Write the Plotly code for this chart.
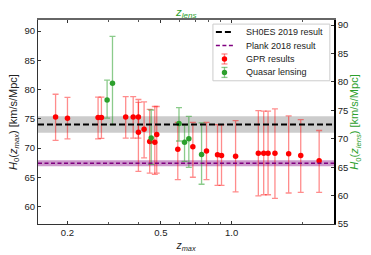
import numpy as np
import plotly.graph_objects as go

# GPR results (z_max, H0 and error-bar ends)
gpr_z = [0.178, 0.200, 0.270, 0.279, 0.354, 0.381, 0.401, 0.401, 0.424, 0.448, 0.471, 0.480,
         0.590, 0.684, 0.782, 0.871, 0.906, 1.04, 1.30, 1.37, 1.43, 1.53, 1.75, 1.97, 2.36]
gpr_h0 = [75.3, 75.1, 75.2, 75.2, 75.3, 75.3, 75.3, 72.7, 73.2, 71.1, 71.0, 72.3,
          69.8, 70.2, 69.5, 68.85, 68.7, 68.6, 69.1, 69.1, 69.1, 69.1, 69.0, 68.7, 67.8]
gpr_hi = [79.2, 78.65, 78.7, 78.7, 78.8, 78.8, 78.3, 77.8, 77.9, 76.6, 77.1, 77.1,
          74.4, 74.4, 74.4, 74.0, 74.0, 74.7, 76.4, 76.3, 76.3, 76.7, 75.5, 74.85, 73.0]
gpr_lo = [71.3, 71.55, 71.55, 71.65, 71.7, 71.7, 71.7, 66.0, 68.3, 65.7, 65.5, 65.7,
          64.6, 65.0, 64.6, 63.6, 63.6, 62.5, 61.8, 62.0, 62.0, 61.4, 62.3, 62.4, 62.4]

# Quasar lensing (z_lens, H0, +err, -err)
q_z = [0.295, 0.311, 0.4546, 0.597, 0.6304, 0.6575, 0.745]
q_h0 = [78.2, 81.1, 71.7, 74.2, 71.0, 71.6, 68.9]
q_up = [3.4, 8.0, 4.8, 2.7, 2.9, 3.8, 5.4]
q_dn = [3.1, 7.1, 4.5, 3.0, 3.3, 4.9, 5.1]

# Reference values
shoes_h0, shoes_err = 74.03, 1.42
planck_h0, planck_err = 67.4, 0.5

x_ticks = [0.2, 0.5, 1.0]
x_tick_text = ["0.2", "0.5", "1.0"]
x_minor = [0.3, 0.4, 0.6, 0.7, 0.8, 0.9, 2.0]
yl_ticks = [60, 65, 70, 75, 80, 85, 90]
yr_ticks = [55, 60, 65, 70, 75, 80, 85, 90]
legend_labels = ["SH0ES 2019 result", "Plank 2018 result", "GPR results", "Quasar lensing"]

FONT = "Liberation Sans"
GREEN = "#2ca02c"
RED = "#ff0000"
xr = [np.log10(0.1498), np.log10(2.73)]

gpr_up = [h - v for h, v in zip(gpr_hi, gpr_h0)]
gpr_dn = [v - l for l, v in zip(gpr_lo, gpr_h0)]

fig = go.Figure()
fig.add_trace(go.Scatter(
    x=gpr_z, y=gpr_h0, mode="markers", name="GPR results",
    marker=dict(color=RED, size=5.5),
    error_y=dict(type="data", symmetric=False, array=gpr_up, arrayminus=gpr_dn,
                 color="rgba(255,0,0,0.45)", thickness=1.3, width=3)))
fig.add_trace(go.Scatter(
    x=q_z, y=q_h0, mode="markers", name="Quasar lensing", xaxis="x2", yaxis="y",
    marker=dict(color=GREEN, size=5.5),
    error_y=dict(type="data", symmetric=False, array=q_up, arrayminus=q_dn,
                 color="rgba(44,160,44,0.55)", thickness=1.3, width=3)))
# dummy trace to activate right axis
fig.add_trace(go.Scatter(x=[None], y=[None], yaxis="y2", showlegend=False, hoverinfo="skip"))

# bands and lines
fig.add_shape(type="rect", xref="paper", x0=0, x1=1, yref="y",
              y0=shoes_h0 - shoes_err, y1=shoes_h0 + shoes_err,
              fillcolor="rgba(128,128,128,0.4)", line=dict(width=0), layer="below")
fig.add_shape(type="rect", xref="paper", x0=0, x1=1, yref="y",
              y0=planck_h0 - planck_err, y1=planck_h0 + planck_err,
              fillcolor="rgba(128,0,128,0.4)", line=dict(width=0), layer="below")
BLACK_DASH = dict(color="black", width=2, dash="6px,3px")
PURPLE_DASH = dict(color="purple", width=1.5, dash="4px,2.5px")
fig.add_shape(type="line", xref="paper", x0=0, x1=1, yref="y", y0=shoes_h0, y1=shoes_h0, line=BLACK_DASH)
fig.add_shape(type="line", xref="paper", x0=0, x1=1, yref="y", y0=planck_h0, y1=planck_h0, line=PURPLE_DASH)

# ---- hand-built legend (compact, matplotlib-like) ----
lg_x0, lg_x1, lg_y0, lg_y1 = 0.591, 0.986, 0.702, 0.980
fig.add_shape(type="rect", xref="paper", yref="paper", x0=lg_x0, x1=lg_x1, y0=lg_y0, y1=lg_y1,
              fillcolor="rgba(255,255,255,0.85)", line=dict(color="#cccccc", width=1))
row_y = [0.941, 0.875, 0.809, 0.743]
sym_x0, sym_x1, sym_xc, txt_x = 0.601, 0.659, 0.630, 0.696
fig.add_shape(type="line", xref="paper", yref="paper", x0=sym_x0, x1=sym_x1, y0=row_y[0], y1=row_y[0], line=BLACK_DASH)
fig.add_shape(type="line", xref="paper", yref="paper", x0=sym_x0, x1=sym_x1, y0=row_y[1], y1=row_y[1], line=PURPLE_DASH)
for ry, mc, ec in [(row_y[2], RED, "rgba(255,0,0,0.45)"), (row_y[3], GREEN, "rgba(44,160,44,0.55)")]:
    fig.add_shape(type="line", xref="paper", yref="paper", xsizemode="pixel", ysizemode="pixel",
                  xanchor=sym_xc, yanchor=ry, x0=0, x1=0, y0=-5, y1=5, line=dict(color=ec, width=1.3))
    for cy in (-5, 5):
        fig.add_shape(type="line", xref="paper", yref="paper", xsizemode="pixel", ysizemode="pixel",
                      xanchor=sym_xc, yanchor=ry, x0=-3, x1=3, y0=cy, y1=cy, line=dict(color=ec, width=1.3))
    fig.add_shape(type="circle", xref="paper", yref="paper", xsizemode="pixel", ysizemode="pixel",
                  xanchor=sym_xc, yanchor=ry, x0=-2.7, x1=2.7, y0=-2.7, y1=2.7,
                  fillcolor=mc, line=dict(width=0))
for ry, lab in zip(row_y, legend_labels):
    fig.add_annotation(xref="paper", yref="paper", x=txt_x, y=ry, text=lab, showarrow=False,
                       xanchor="left", yanchor="middle", font=dict(family=FONT, size=9, color="#222"))

# top axis title (z_lens), placed just above the top spine
fig.add_annotation(xref="paper", yref="paper", x=0.5, y=1, yanchor="bottom", yshift=-1.5,
                   text="<i>z</i><sub><i>lens</i></sub>", showarrow=False,
                   font=dict(family=FONT, size=11.5, color=GREEN))

tickfont = dict(family=FONT, size=9.5, color="#222")
fig.update_layout(
    width=371, height=255,
    margin=dict(l=38, r=37, t=20, b=30.5),
    paper_bgcolor="white", plot_bgcolor="white",
    font=dict(family=FONT, color="#222"),
    showlegend=False,
    xaxis=dict(type="log", range=xr, tickmode="array", tickvals=x_ticks, ticktext=x_tick_text,
               ticks="inside", ticklen=3, tickcolor="#333", tickfont=tickfont, automargin=False,
               minor=dict(tickmode="array", tickvals=x_minor, ticks="inside", ticklen=2, tickcolor="#555"),
               showline=True, linecolor="#333", linewidth=1, showgrid=False, zeroline=False,
               title=dict(text="<i>z</i><sub><i>max</i></sub>", font=dict(family=FONT, size=10.5), standoff=4)),
    xaxis2=dict(type="log", range=xr, overlaying="x", side="top", tickmode="array", tickvals=x_ticks,
                showticklabels=False, ticks="inside", ticklen=3, tickcolor="#333", automargin=False,
                minor=dict(tickmode="array", tickvals=x_minor, ticks="inside", ticklen=2, tickcolor="#555"),
                showline=True, linecolor="#666", linewidth=1.5, showgrid=False, zeroline=False),
    yaxis=dict(range=[57.0, 91.9], tickmode="array", tickvals=yl_ticks, ticks="inside", ticklen=3,
               tickcolor="#333", tickfont=tickfont, showline=True, linecolor="#333", linewidth=1,
               showgrid=False, zeroline=False, automargin=False,
               title=dict(text="<i>H</i><sub>0</sub>(<i>z</i><sub><i>max</i></sub>) [km/s/Mpc]",
                          font=dict(family=FONT, size=11), standoff=4)),
    yaxis2=dict(range=[55.0, 90.9], overlaying="y", side="right", tickmode="array", tickvals=yr_ticks,
                ticks="inside", ticklen=3, tickcolor="#333", tickfont=tickfont, automargin=False,
                showline=True, linecolor="black", linewidth=1.5, showgrid=False, zeroline=False,
                title=dict(text="<i>H</i><sub>0</sub>(<i>z</i><sub><i>lens</i></sub>) [km/s/Mpc]",
                           font=dict(family=FONT, size=11, color=GREEN), standoff=2)),
)

fig.write_html("out.html", config={"displayModeBar": False},
               post_script="document.body.style.margin='0';")
